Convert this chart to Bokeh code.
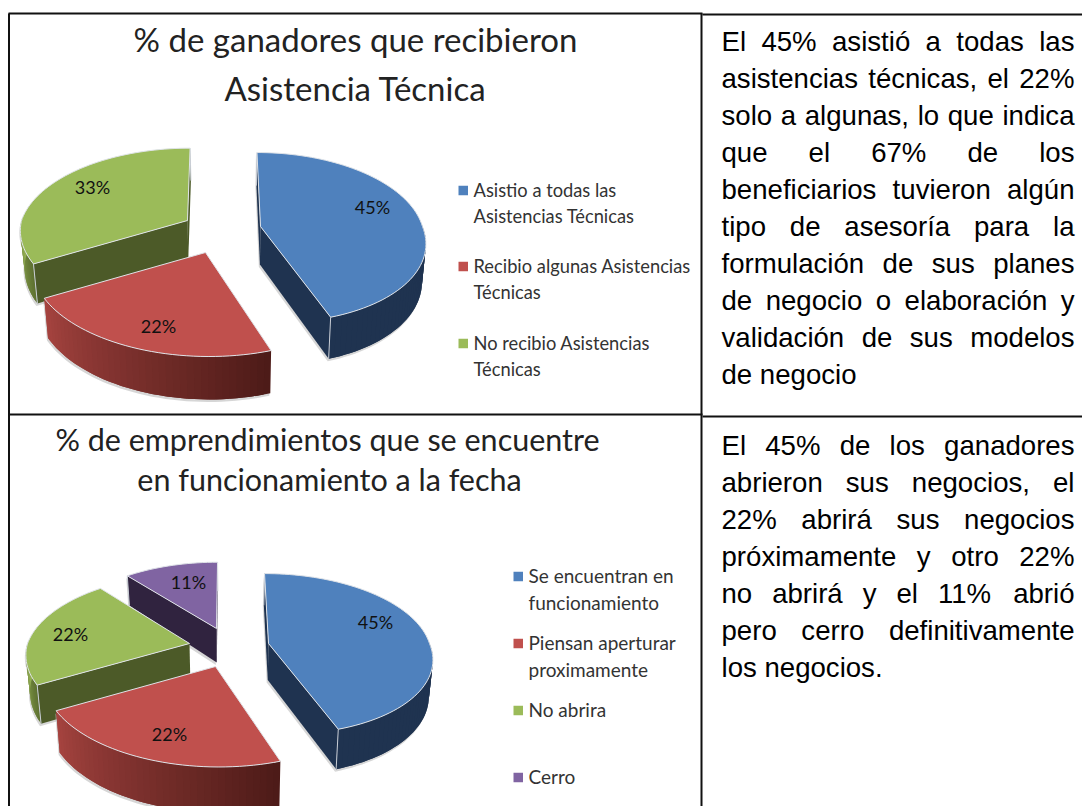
import math
from bokeh.plotting import figure
from bokeh.models import Range1d, ColumnDataSource
from bokeh.core.properties import value
from bokeh.embed import file_html
from bokeh.resources import INLINE

# ---------- data ----------
values_top = [45, 22, 33]
values_bottom = [45, 22, 22, 11]
pct_labels_top = ["45%", "22%", "33%"]
pct_labels_bottom = ["45%", "22%", "22%", "11%"]
title_top = ["% de ganadores que recibieron", "Asistencia Técnica"]
title_bottom = ["% de emprendimientos que se encuentre", "en funcionamiento a la fecha"]
legend_top = [["Asistio a todas las", "Asistencias Técnicas"],
              ["Recibio algunas Asistencias", "Técnicas"],
              ["No recibio Asistencias", "Técnicas"]]
legend_bottom = [["Se encuentran en", "funcionamiento"],
                 ["Piensan aperturar", "proximamente"],
                 ["No abrira"],
                 ["Cerro"]]
text_top = ["El 45% asistió a todas las", "asistencias técnicas, el 22%",
            "solo a algunas, lo que indica", "que el 67% de los",
            "beneficiarios tuvieron algún", "tipo de asesoría para la",
            "formulación de sus planes", "de negocio o elaboración y",
            "validación de sus modelos", "de negocio"]
text_bottom = ["El 45% de los ganadores", "abrieron sus negocios, el",
               "22% abrirá sus negocios", "próximamente y otro 22%",
               "no abrirá y el 11% abrió", "pero cerro definitivamente",
               "los negocios."]

# ---------- styles / layout ----------
TOP_COL = ["#4F81BD", "#C0504D", "#9BBB59"]
BOT_COL = ["#4F81BD", "#C0504D", "#9BBB59", "#8064A2"]
WALL = {"#4F81BD": "#1F3350", "#C0504D": "#4D1B18", "#9BBB59": "#4C5A28", "#8064A2": "#30233F"}
RIM = {"#4F81BD": ("#1F3350", "#1F3350"), "#C0504D": ("#4D1B18", "#A5433F"),
       "#9BBB59": ("#5F7232", "#97B356"), "#8064A2": ("#30233F", "#30233F")}
FONT = "Lato"
TXT = "#333333"

# per-slice projection: centre x, centre y, a, b, perspective k, back shear, front shear, depth
GEOM_TOP = [(260, 226, 162, 83.6, 0.13, 4, 12, 37),
            (205, 252, 172, 88, 0.154, 3, 3, 37),
            (187, 220, 166, 83.5, 0.154, -3, 6, 37)]
GEOM_BOT = [(268, 643, 161, 79, 0.13, 4.5, 12, 35.5),
            (215, 666, 170, 85, 0.154, 3, 3, 39),
            (189, 643, 162, 80, 0.154, -4.7, 2, 36),
            (216, 628, 158, 76.5, 0.154, -1.2, -1.2, 33)]

p = figure(width=1082, height=806, output_backend="svg", toolbar_location=None,
           x_range=Range1d(0, 1082), y_range=Range1d(806, 0),
           x_axis_type=None, y_axis_type=None, min_border=0,
           outline_line_color=None, background_fill_color="white")
p.grid.visible = False


def hex2rgb(h):
    return [int(h[i:i + 2], 16) for i in (1, 3, 5)]


def mix(a, b, t):
    ra, rb = hex2rgb(a), hex2rgb(b)
    return "#%02x%02x%02x" % tuple(round(ra[i] + (rb[i] - ra[i]) * t) for i in range(3))


def pie(values, colors, geom, vx, order):
    total = sum(values)
    angles, acc = [], 0
    for v in values:
        angles.append((acc * 360 / total, (acc + v) * 360 / total))
        acc += v

    for idx in order:
        t1, t2 = angles[idx]
        cx, cy, a, b, k, sb, sf, depth = geom[idx]
        col = colors[idx]

        def top(th):
            X, Y = math.sin(math.radians(th)), math.cos(math.radians(th))
            s = 1 / (1 + k * Y)
            sh = sb if Y > 0 else sf
            return cx + (a * X - sh * Y) * s, cy - b * Y * s, Y

        def bot(th):
            x, y, Y = top(th)
            return x + (vx - x) * 0.02, y + depth / (1 + 0.9 * k * Y)

        def cbot():
            return cx + (vx - cx) * 0.02, cy + depth + 1

        n = max(3, int((t2 - t1) / 2))
        ths = [t1 + (t2 - t1) * i / n for i in range(n + 1)]
        rim_x = [top(t)[0] for t in ths]
        rim_y = [top(t)[1] for t in ths]

        vis = [t for t in ths if math.cos(math.radians(t)) < 0.06]
        xs, ys, cs = [], [], []
        # outer wall as overlapping gradient strips
        if len(vis) > 1:
            sx = [top(t)[0] for t in vis] + [bot(t)[0] for t in reversed(vis)]
            sy = [top(t)[1] for t in vis] + [bot(t)[1] for t in reversed(vis)]
            p.patch([x - 1 for x in sx], [y + 2.5 for y in sy], fill_color="#b5b5b5", fill_alpha=0.55, line_color=None)
            c0, c1 = RIM[col]
            for i in range(len(vis) - 1):
                seg = vis[i:i + 3]
                xs.append([top(t)[0] for t in seg] + [bot(t)[0] for t in reversed(seg)])
                ys.append([top(t)[1] for t in seg] + [bot(t)[1] for t in reversed(seg)])
                cs.append(mix(c0, c1, i / max(1, len(vis) - 2)))
        # radial walls
        edge_lines = []
        for th, visible in ((t1, math.sin(math.radians(t1)) <= 1e-6),
                            (t2, -math.sin(math.radians(t2)) <= 1e-6)):
            if visible:
                rx, ry, _ = top(th)
                bx, by = bot(th)
                cbx, cby = cbot()
                p.patch([cx - 1, rx - 1, bx - 1, cbx - 1], [cy + 2.5, ry + 2.5, by + 2.5, cby + 2.5],
                        fill_color="#b5b5b5", fill_alpha=0.55, line_color=None)
                xs.append([cx, rx, bx, cbx])
                ys.append([cy, ry, by, cby])
                cs.append(WALL[col])
                edge_lines.append(([rx, bx], [ry, by]))
        if xs:
            p.patches(xs, ys, fill_color=cs, line_color=None)
        for ex, ey in edge_lines:
            p.line(ex, ey, line_color="#c9ced6", line_width=1)
        # top face
        fx = [cx] + rim_x
        fy = [cy] + rim_y
        p.patch(fx, fy, fill_color=col, line_color="#dfe3e8", line_width=1)


# table rules
hx = [[8, 702], [702, 1082], [8, 702], [702, 1082]]
hy = [[13, 13], [14, 14], [414, 414], [416, 416]]
vx_ = [[8.5, 8.5], [701, 701]]
vy_ = [[13, 806], [13, 806]]
p.multi_line(hx, hy, line_color="#111111", line_width=2)
p.multi_line(vx_, vy_, line_color="#111111", line_width=2)

pie(values_top, TOP_COL, GEOM_TOP, 230, [2, 1, 0])
pie(values_bottom, BOT_COL, GEOM_BOT, 230, [3, 2, 1, 0])


def put(texts, xs, ys, size, align="left", color=TXT, font=FONT):
    src = ColumnDataSource(dict(x=xs, y=ys, t=texts))
    p.text("x", "y", text="t", source=src, text_font=value(font), text_font_size=value(size),
           text_color=color, text_align=align, text_baseline="middle")


# titles
put(title_top, [355, 355], [38, 87], "33px", "center", "#222222")
put(title_bottom, [327, 329], [438, 478], "30.5px", "center", "#222222")

# percent labels
put(pct_labels_top, [372, 158, 92], [206, 325, 186], "18px", "center", "#111111")
put(pct_labels_bottom, [375, 169, 70, 188], [621, 733, 633, 581], "18px", "center", "#111111")

# legends
leg_top_y = [190, 266, 343]
leg_bot_y = [576, 643, 710, 777]
for labels, cols, ys, sqx, tx, size in ((legend_top, TOP_COL, leg_top_y, 458, 473, "18.3px"),
                                        (legend_bottom, BOT_COL, leg_bot_y, 513, 528, "19px")):
    p.quad(left=[sqx] * len(ys), right=[sqx + 9.5] * len(ys),
           top=[y - 4.75 for y in ys], bottom=[y + 4.75 for y in ys], fill_color=cols, line_color=None)
    for lab, y in zip(labels, ys):
        put(lab, [tx] * len(lab), [y - 1 + i * 26.5 for i in range(len(lab))], size)

# justified paragraphs (Arial advance widths, 1/1000 em)
W = {" ": 278, "%": 889, ",": 278, ".": 278, "E": 667, "f": 278, "i": 222, "j": 222, "l": 222, "t": 278, "r": 333,
     "c": 500, "k": 500, "s": 500, "v": 500, "x": 500, "y": 500, "z": 500, "m": 833, "w": 722,
     "í": 278, "ó": 556, "ú": 556, "á": 556, "é": 556}
FS = 27.6
LEFT, RIGHT = 721, 1074


def width(w):
    return sum(W.get(ch, 556) for ch in w) / 1000 * FS


def paragraph(lines, y0, pitch):
    wx, wy, wt = [], [], []
    for i, line in enumerate(lines):
        words = line.split(" ")
        y = y0 + i * pitch
        if i == len(lines) - 1:
            gap = W[" "] / 1000 * FS
        else:
            gap = (RIGHT - LEFT - sum(width(w) for w in words)) / (len(words) - 1)
        x = LEFT
        for w in words:
            wx.append(x); wy.append(y); wt.append(w)
            x += width(w) + gap
    put(wt, wx, wy, "%.1fpx" % FS, "left", "#000000", "Liberation Sans")


paragraph(text_top, 41, 37)
paragraph(text_bottom, 445, 37)

open("out.html", "w").write(file_html(p, INLINE))
